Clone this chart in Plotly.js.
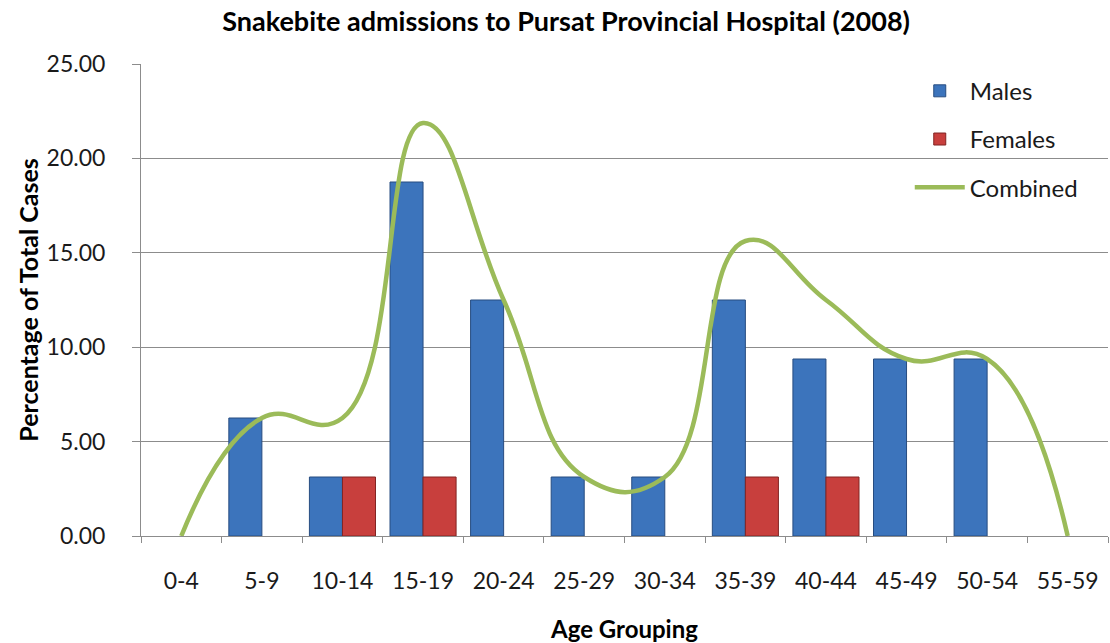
<!DOCTYPE html>
<html>
<head>
<meta charset="utf-8">
<script src="https://cdn.plot.ly/plotly-3.0.1.min.js"></script>
<style>
html,body{margin:0;padding:0;background:#fff;}
#chart{width:1110px;height:643px;}
</style>
</head>
<body>
<div id="chart"></div>
<script>
const categories = ["0-4","5-9","10-14","15-19","20-24","25-29","30-34","35-39","40-44","45-49","50-54","55-59"];
const males    = [0, 6.25, 3.125, 18.75, 12.5, 3.125, 3.125, 12.5, 9.375, 9.375, 9.375, 0];
const females  = [0, 0, 3.125, 3.125, 0, 0, 0, 3.125, 3.125, 0, 0, 0];
const combined = [0, 6.25, 6.25, 21.875, 12.5, 3.125, 3.125, 15.625, 12.5, 9.375, 9.375, 0];
const yTicks = [0, 5, 10, 15, 20, 25];

const FONT = "Lato, 'Open Sans', sans-serif";
// zero-valued bars are not drawn (as in the original chart)
const noZero = arr => arr.map(v => (v === 0 ? null : v));

const traces = [
  {
    type: "bar", name: "Males", x: categories, y: noZero(males), legendgroup: "m",
    marker: {color: "#3C74BC", line: {color: "#274C80", width: 1}},
    hoverinfo: "x+y"
  },
  {
    type: "bar", name: "Females", x: categories, y: noZero(females), legendgroup: "f",
    marker: {color: "#C83F3D", line: {color: "#822423", width: 1}},
    hoverinfo: "x+y"
  },
  {
    type: "scatter", mode: "lines", name: "Combined", x: categories, y: combined, legendgroup: "c",
    line: {color: "#9BBB59", width: 4.5, shape: "spline", smoothing: 1.3},
    hoverinfo: "x+y"
  }
];

const layout = {
  width: 1110, height: 643,
  margin: {l: 141, r: 2, t: 64, b: 107, pad: 0},
  paper_bgcolor: "#ffffff", plot_bgcolor: "#ffffff",
  font: {family: FONT, size: 22, color: "#1a1a1a"},
  title: {
    text: "Snakebite admissions to Pursat Provincial Hospital (2008)",
    font: {family: FONT, size: 27, color: "#000", weight: "bold"},
    x: 0.51, xanchor: "center", y: 0.966, yanchor: "middle", xref: "container"
  },
  barmode: "group", bargap: 0.18, bargroupgap: 0,
  xaxis: {
    type: "category",
    range: [-0.5, 11.5],
    showline: true, linecolor: "#8c8c8c", linewidth: 1,
    ticks: "outside", ticklen: 6, tickcolor: "#8c8c8c", tickson: "boundaries",
    ticklabelstandoff: 24,
    tickfont: {family: FONT, size: 23, color: "#1a1a1a"},
    showgrid: false, zeroline: false,
    title: {text: "Age Grouping", font: {family: FONT, size: 24, color: "#000", weight: "bold"}, standoff: 32},
    automargin: false, fixedrange: true
  },
  yaxis: {
    range: [0, 25],
    tickvals: yTicks, ticktext: yTicks.map(v => v.toFixed(2)),
    showline: true, linecolor: "#8c8c8c", linewidth: 1,
    ticks: "outside", ticklen: 8, tickcolor: "#8c8c8c",
    ticklabelstandoff: 22,
    tickfont: {family: FONT, size: 23, color: "#1a1a1a"},
    showgrid: true, gridcolor: "#8c8c8c", gridwidth: 1,
    zeroline: false,
    title: {text: "Percentage of Total Cases", font: {family: FONT, size: 25, color: "#000", weight: "bold"}, standoff: 0},
    automargin: false, fixedrange: true
  },
  legend: {
    x: 0.795, xanchor: "left", y: 0.99, yanchor: "top",
    bgcolor: "rgba(255,255,255,0)", borderwidth: 0,
    font: {family: FONT, size: 24, color: "#1a1a1a"},
    tracegroupgap: 14, traceorder: "grouped", itemwidth: 50
  },
  showlegend: true
};

Plotly.newPlot("chart", traces, layout, {displayModeBar: false, staticPlot: true});
</script>
</body>
</html>
